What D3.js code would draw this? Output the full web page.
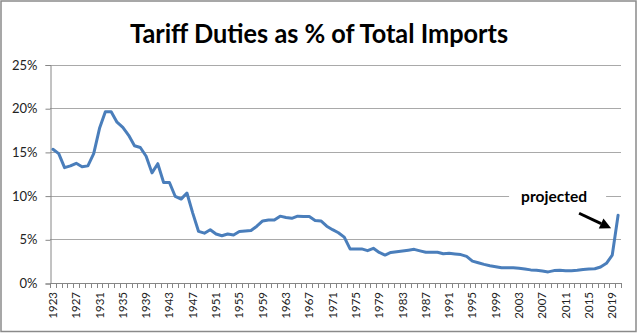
<!DOCTYPE html>
<html><head><meta charset="utf-8">
<script src="https://cdn.jsdelivr.net/npm/d3@7"></script>
<style>
html,body{margin:0;padding:0;background:#fff;}
svg{display:block;}
</style></head>
<body>
<svg id="chart" width="640" height="334"></svg>
<script>
const years = [1923,1924,1925,1926,1927,1928,1929,1930,1931,1932,1933,1934,1935,1936,1937,1938,1939,1940,1941,1942,1943,1944,1945,1946,1947,1948,1949,1950,1951,1952,1953,1954,1955,1956,1957,1958,1959,1960,1961,1962,1963,1964,1965,1966,1967,1968,1969,1970,1971,1972,1973,1974,1975,1976,1977,1978,1979,1980,1981,1982,1983,1984,1985,1986,1987,1988,1989,1990,1991,1992,1993,1994,1995,1996,1997,1998,1999,2000,2001,2002,2003,2004,2005,2006,2007,2008,2009,2010,2011,2012,2013,2014,2015,2016,2017,2018,2019,2020];
const tariffPct = [15.3,14.8,13.2,13.4,13.7,13.3,13.4,14.8,17.7,19.6,19.6,18.4,17.8,16.9,15.7,15.5,14.5,12.6,13.65,11.5,11.5,9.9,9.6,10.3,8.0,5.9,5.7,6.1,5.6,5.4,5.6,5.5,5.9,5.95,6.0,6.5,7.1,7.2,7.2,7.65,7.5,7.4,7.65,7.6,7.6,7.15,7.1,6.5,6.1,5.75,5.25,3.9,3.9,3.9,3.7,3.97,3.5,3.2,3.5,3.58,3.66,3.75,3.85,3.68,3.52,3.52,3.52,3.35,3.4,3.33,3.25,3.05,2.5,2.32,2.13,1.98,1.87,1.75,1.75,1.75,1.68,1.6,1.5,1.45,1.38,1.27,1.42,1.45,1.41,1.41,1.45,1.55,1.6,1.63,1.83,2.25,3.2,7.75];
const xTickYears = [1923,1927,1931,1935,1939,1943,1947,1951,1955,1959,1963,1967,1971,1975,1979,1983,1987,1991,1995,1999,2003,2007,2011,2015,2019];
const yTickValues = [0,5,10,15,20,25];
const yTickLabels = ["0%","5%","10%","15%","20%","25%"];
const titleText = "Tariff Duties as % of Total Imports";
const annotationText = "projected";
const annotatedYear = 2020;

const svg = d3.select("#chart");
const plotLeft = 50, plotRight = 621, plotTop = 64.5, plotBottom = 283;

// frame
svg.append("rect").attr("x",1).attr("y",1).attr("width",635).attr("height",330.5)
  .attr("fill","#fff").attr("stroke","#8a8a8a").attr("stroke-width",1.5);

const x = d3.scaleBand().domain(years).range([plotLeft,plotRight]).padding(0);
const y = d3.scaleLinear().domain([0,25]).range([plotBottom,plotTop]);

// gridlines
svg.append("g").selectAll("line").data(yTickValues.filter(v=>v>0)).join("line")
  .attr("x1",plotLeft).attr("x2",plotRight)
  .attr("y1",d=>Math.round(y(d))+0.5).attr("y2",d=>Math.round(y(d))+0.5)
  .attr("stroke","#a9a9a9").attr("stroke-width",1);

// y axis
const yAxis = d3.axisLeft(y).tickValues(yTickValues)
  .tickFormat((d,i)=>yTickLabels[i]).tickSizeOuter(0).tickSize(5).tickPadding(8);
const gy = svg.append("g").attr("transform",`translate(${plotLeft+0.5},0.5)`).call(yAxis);
gy.select(".domain").attr("stroke","#868686");
gy.selectAll(".tick line").attr("stroke","#868686");
gy.selectAll(".tick text").attr("font-family","Lato, 'Open Sans', sans-serif")
  .attr("font-size","13px").attr("fill","#222");

// x axis: ticks at category boundaries
const gx = svg.append("g");
gx.append("line").attr("x1",plotLeft).attr("x2",plotRight+0.5)
  .attr("y1",plotBottom+0.5).attr("y2",plotBottom+0.5).attr("stroke","#868686");
const boundaries = years.map(d=>x(d)).concat([x(years[years.length-1])+x.bandwidth()]);
gx.selectAll("line.tk").data(boundaries).join("line").attr("class","tk")
  .attr("x1",d=>Math.round(d)+0.5).attr("x2",d=>Math.round(d)+0.5)
  .attr("y1",plotBottom).attr("y2",plotBottom+5).attr("stroke","#868686");
gx.selectAll("text").data(xTickYears).join("text")
  .attr("transform",d=>`translate(${x(d)+x.bandwidth()/2+4},${plotBottom+9}) rotate(-90)`)
  .attr("text-anchor","end")
  .attr("font-family","Lato, 'Open Sans', sans-serif").attr("font-size","11.5px").attr("fill","#222")
  .text(d=>d);

// line
const line = d3.line().x(d=>x(d.year)+x.bandwidth()/2).y(d=>y(d.v));
const data = years.map((yr,i)=>({year:yr, v:tariffPct[i]}));
svg.append("path").datum(data).attr("d",line).attr("fill","none")
  .attr("stroke","#4A7EBB").attr("stroke-width",3).attr("stroke-linejoin","round").attr("stroke-linecap","round");

// title
svg.append("text").attr("x",319).attr("y",43).attr("text-anchor","middle")
  .attr("font-family","Lato, 'Open Sans', sans-serif").attr("font-weight","bold").attr("font-size","26.7px")
  .attr("textLength",378).attr("lengthAdjust","spacingAndGlyphs").attr("fill","#000").text(titleText);

// annotation
const px = x(annotatedYear)+x.bandwidth()/2, py = y(tariffPct[years.indexOf(annotatedYear)]);
svg.append("rect").attr("x",px-109).attr("y",py-29).attr("width",97).attr("height",22).attr("fill","#fff");
svg.append("text").attr("x",px-64).attr("y",py-13).attr("text-anchor","middle")
  .attr("font-family","Lato, 'Open Sans', sans-serif").attr("font-weight","bold").attr("font-size","16px")
  .attr("textLength",66).attr("lengthAdjust","spacingAndGlyphs").attr("fill","#000").text(annotationText);
const ax1 = px-39, ay1 = py-2, ax2 = px-7, ay2 = py+13;
const ang = Math.atan2(ay2-ay1, ax2-ax1);
const hl = 11, hw = 5.5;
const bx = ax2 - hl*Math.cos(ang), by = ay2 - hl*Math.sin(ang);
svg.append("line").attr("x1",ax1).attr("y1",ay1).attr("x2",bx).attr("y2",by)
  .attr("stroke","#000").attr("stroke-width",3);
svg.append("polygon").attr("points",[
  [ax2,ay2],
  [bx + hw*Math.sin(ang), by - hw*Math.cos(ang)],
  [bx - hw*Math.sin(ang), by + hw*Math.cos(ang)]
].map(p=>p.join(",")).join(" ")).attr("fill","#000");
</script>
</body></html>
